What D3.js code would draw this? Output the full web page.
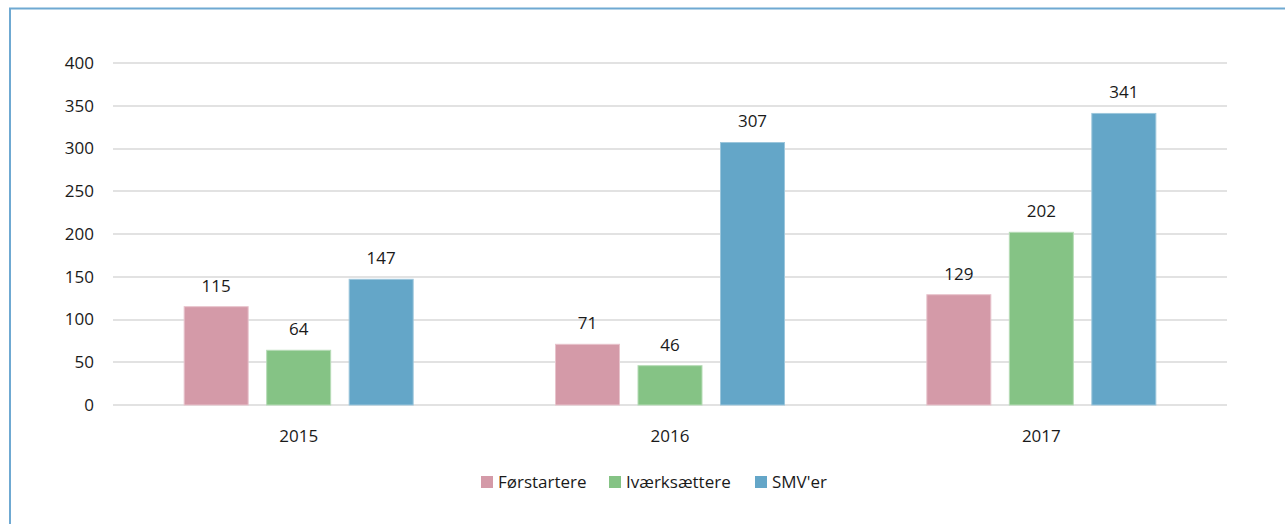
<!DOCTYPE html>
<html>
<head>
<meta charset="utf-8">
<script src="https://cdn.jsdelivr.net/npm/d3@7"></script>
<style>
  html, body { margin: 0; padding: 0; background: #fff; }
  svg { display: block; font-family: "Open Sans", "Noto Sans", sans-serif; }
</style>
</head>
<body>
<svg id="chart" width="1285" height="524"></svg>
<script>
const years = ["2015", "2016", "2017"];
const seriesNames = ["Førstartere", "Iværksættere", "SMV'er"];
const forstartere = [115, 71, 129];
const ivaerksaettere = [64, 46, 202];
const smver = [147, 307, 341];
const yTicks = [0, 50, 100, 150, 200, 250, 300, 350, 400];
const colors = ["#d49aa8", "#85c385", "#64a6c8"];
const strokes = ["#e8c3cc", "#b6dcb6", "#9cc6dc"];

const seriesValues = [forstartere, ivaerksaettere, smver];

const svg = d3.select("#chart");

// frame
svg.append("rect")
  .attr("x", 10).attr("y", 8.5)
  .attr("width", 1300).attr("height", 540)
  .attr("fill", "none").attr("stroke", "#6fa9d2").attr("stroke-width", 2);

const plot = { left: 113, right: 1227, top: 63, bottom: 405 };

const x0 = d3.scaleBand().domain(years).range([plot.left, plot.right]).padding(0);
const y = d3.scaleLinear().domain([0, 400]).range([plot.bottom, plot.top]);

const barW = 65, step = 82.5;
const x1 = d3.scaleOrdinal().domain(seriesNames).range([-step, 0, step]);

// gridlines
svg.append("g").selectAll("line").data(yTicks).join("line")
  .attr("x1", plot.left).attr("x2", plot.right)
  .attr("y1", d => Math.round(y(d))).attr("y2", d => Math.round(y(d)))
  .attr("stroke", "#d9d9d9").attr("stroke-width", 1.6);

// y axis labels
svg.append("g").selectAll("text").data(yTicks).join("text")
  .attr("x", 94).attr("y", d => y(d))
  .attr("dy", "0.35em").attr("text-anchor", "end")
  .attr("font-size", 17).attr("fill", "#1a1a1a")
  .text(d => d);

// x axis labels
svg.append("g").selectAll("text").data(years).join("text")
  .attr("x", d => x0(d) + x0.bandwidth() / 2).attr("y", 436)
  .attr("dy", "0.35em").attr("text-anchor", "middle")
  .attr("font-size", 17).attr("fill", "#1a1a1a")
  .text(d => d);

// bars + value labels
const flat = [];
years.forEach((yr, i) => {
  seriesNames.forEach((s, j) => {
    flat.push({ yr, s, j, v: seriesValues[j][i] });
  });
});

const bars = svg.append("g");
bars.selectAll("rect").data(flat).join("rect")
  .attr("x", d => x0(d.yr) + x0.bandwidth() / 2 + x1(d.s) - barW / 2 + 0.5)
  .attr("y", d => y(d.v))
  .attr("width", barW - 1)
  .attr("height", d => y(0) - y(d.v))
  .attr("fill", d => colors[d.j])
  .attr("stroke", d => strokes[d.j]).attr("stroke-width", 1);

bars.selectAll("text").data(flat).join("text")
  .attr("x", d => x0(d.yr) + x0.bandwidth() / 2 + x1(d.s))
  .attr("y", d => y(d.v) - 21)
  .attr("dy", "0.35em").attr("text-anchor", "middle")
  .attr("font-size", 17).attr("fill", "#1a1a1a")
  .text(d => d.v);

// legend
const legendX = [481, 609, 755];
const lg = svg.append("g").selectAll("g").data(seriesNames).join("g")
  .attr("transform", (d, i) => `translate(${legendX[i]},476)`);
lg.append("rect").attr("width", 12).attr("height", 12)
  .attr("fill", (d, i) => colors[i]);
lg.append("text").attr("x", 17).attr("y", 6).attr("dy", "0.35em")
  .attr("font-size", 17).attr("fill", "#1a1a1a")
  .text(d => d);
</script>
</body>
</html>
